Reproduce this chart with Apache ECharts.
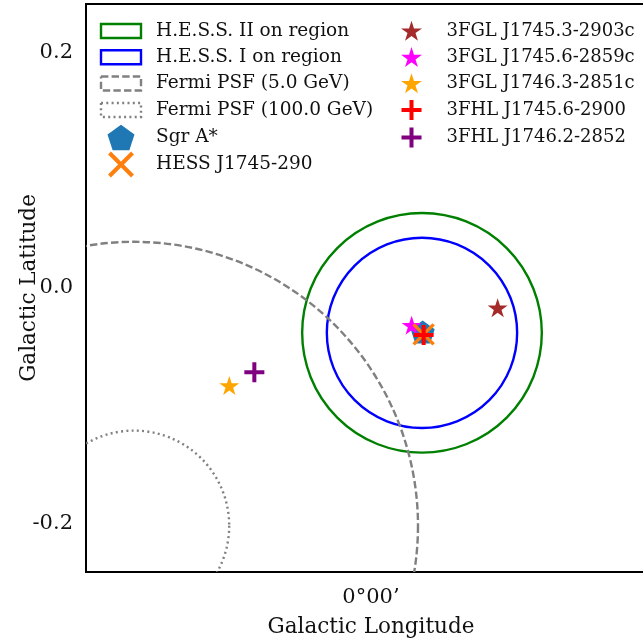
<!DOCTYPE html>
<html><head><meta charset="utf-8">
<script src="https://cdn.jsdelivr.net/npm/echarts@6/dist/echarts.min.js"></script>
<style>html,body{margin:0;padding:0;background:#fff}#c{width:643px;height:641px}</style>
</head><body><div id="c"></div>
<script>
// Galactic longitude offsets (deg, relative to 0°), latitude (deg)
var regionNames = ['H.E.S.S. II on region', 'H.E.S.S. I on region', 'Fermi PSF (5.0 GeV)', 'Fermi PSF (100.0 GeV)'];
var regionCenterL = [-0.0434, -0.0434, 0.2017, 0.2017];
var regionCenterB = [-0.0381, -0.0381, -0.202, -0.202];
var regionRadius = [0.102, 0.081, 0.2417, 0.081];

var sourceNames = ['Sgr A*', 'HESS J1745-290', '3FGL J1745.3-2903c', '3FGL J1745.6-2859c', '3FGL J1746.3-2851c', '3FHL J1745.6-2900', '3FHL J1746.2-2852'];
var sourceL = [-0.0440, -0.0448, -0.1078, -0.0346, 0.1206, -0.0448, 0.0993];
var sourceB = [-0.0374, -0.0394, -0.0167, -0.0317, -0.0828, -0.0400, -0.0715];

var yTicks = [-0.2, 0.0, 0.2];
var xTicks = [0];
var xTickLabels = ['0°00’'];

var FONT = 'DejaVu Serif';
function starPts(cx, cy, R) {
  var s = '';
  for (var k = 0; k < 10; k++) {
    var a = (-90 + 36 * k) * Math.PI / 180, r = (k % 2 === 0) ? R : R * 0.382;
    s += (k === 0 ? 'M' : 'L') + (cx + r * Math.cos(a)).toFixed(2) + ',' + (cy + r * Math.sin(a)).toFixed(2);
  }
  return s + 'Z';
}
var STAR = 'path://' + starPts(100, 100, 100);
var PENT = 'path://M100,0L195.1,69.1L158.8,180.9L41.2,180.9L4.9,69.1Z';
var XMARK = 'path://M0,0L100,100M100,0L0,100';
var PLUS = 'path://M50,0L50,100M0,50L100,50';
// legend icons drawn in a 40x26 box
var BOXEND = 'M0,0M40,26';
var L_RECT = 'path://M0,0M0,6L40,6L40,20L0,20ZM40,26';
var L_PENT = 'path://' + BOXEND + 'M20,0.15L33.5,9.96L28.35,25.84L11.65,25.84L6.5,9.96Z';
var L_STAR = 'path://' + BOXEND + starPts(20, 13.8, 11);
var L_X = 'path://' + BOXEND + 'M8.5,1.5L31.5,24.5M31.5,1.5L8.5,24.5';
var L_PLUS = 'path://' + BOXEND + 'M20,3L20,23M10,13L30,13';

var regionColors = ['#008000', '#0000ff', '#808080', '#808080'];
var regionDash = [null, null, [7.4, 3.2], [2, 3.3]];

var series = [];
regionNames.forEach(function (n, i) {
  series.push({
    type: 'custom', name: n, coordinateSystem: 'cartesian2d', clip: true, z: 1,
    data: [[regionCenterL[i], regionCenterB[i], regionRadius[i]]],
    itemStyle: {color: regionColors[i]},
    renderItem: function (params, api) {
      var c = api.coord([api.value(0), api.value(1)]);
      var s = api.size([api.value(2), 0]);
      return {type: 'circle', shape: {cx: c[0], cy: c[1], r: Math.abs(s[0])},
        style: {fill: null, stroke: regionColors[i], lineWidth: 2.4, lineDash: regionDash[i]}};
    }
  });
});

var symbols = [PENT, XMARK, STAR, STAR, STAR, PLUS, PLUS];
var legendIcons = [L_PENT, L_X, L_STAR, L_STAR, L_STAR, L_PLUS, L_PLUS];
var sizes = [24, 20, 20, 20, 20, 20, 20];
var colors = ['#1f77b4', '#ff7f0e', '#a52a2a', '#ff00ff', '#ffa500', '#ff0000', '#800080'];
var borders = [0, 3.5, 0, 0, 0, 4, 4];
var zs = [2, 3, 2, 2, 2, 4, 4];
sourceNames.forEach(function (n, i) {
  series.push({
    type: 'scatter', name: n, symbol: symbols[i], symbolSize: sizes[i], symbolKeepAspect: true, z: zs[i],
    data: [[sourceL[i], sourceB[i]]],
    itemStyle: {color: colors[i], borderColor: colors[i], borderWidth: borders[i], opacity: 1}
  });
});

// legend entries: [item, strokeWidth]
var leftItems = regionNames.map(function (n, i) {
  return [{name: n, icon: L_RECT, itemStyle: {color: '#ffffff', borderColor: regionColors[i], borderWidth: 2.4, borderType: regionDash[i] || 'solid'}}, 2.4];
});
function srcLegend(i) {
  var w = borders[i] ? 4 : 0;
  return [{name: sourceNames[i], icon: legendIcons[i],
    itemStyle: {color: colors[i], borderColor: colors[i], borderWidth: w}}, w];
}
leftItems.push(srcLegend(0), srcLegend(1));
var rightItems = [2, 3, 4, 5, 6].map(srcLegend);
var rowCenters = [31, 57.3, 83.5, 110, 137.5, 164.5];

var legends = [];
function addLegends(items, left, fontSize) {
  items.forEach(function (it, k) {
    legends.push({
      orient: 'vertical', itemWidth: 40, itemHeight: 26, selectedMode: false, padding: 0,
      left: left - it[1] / 2, top: rowCenters[k] - 13 - it[1] / 2,
      textStyle: {fontFamily: FONT, fontSize: fontSize, color: '#111', padding: [0, 0, 0, 10]},
      data: [it[0]]
    });
  });
}
addLegends(leftItems, 101, 18.5);
addLegends(rightItems, 391.5, 18);

var chart = echarts.init(document.getElementById('c'), null, {renderer: 'canvas'});
chart.setOption({
  animation: false,
  backgroundColor: '#fff',
  grid: {left: 86, top: 4, width: 570, height: 568, show: true, borderColor: '#000', borderWidth: 2,
    containLabel: false, outerBoundsMode: 'none'},
  legend: legends,
  xAxis: {
    type: 'value', inverse: true, min: -0.2426, max: 0.2426,
    name: 'Galactic Longitude', nameLocation: 'middle', nameGap: 44, nameMoveOverlap: false,
    nameTextStyle: {fontFamily: FONT, fontSize: 21.5, color: '#111'},
    splitLine: {show: false}, axisTick: {show: false}, axisLine: {show: false},
    axisLabel: {customValues: xTicks, fontFamily: FONT, fontSize: 21, color: '#111', margin: 15,
      formatter: function (v) { var k = xTicks.indexOf(v); return k >= 0 ? xTickLabels[k] : ''; }}
  },
  yAxis: {
    type: 'value', min: -0.2413, max: 0.2413,
    name: 'Galactic Latitude', nameLocation: 'middle', nameGap: 46, nameRotate: 90, nameMoveOverlap: false,
    nameTextStyle: {fontFamily: FONT, fontSize: 21.5, color: '#111'},
    splitLine: {show: false}, axisTick: {show: false}, axisLine: {show: false},
    axisLabel: {customValues: yTicks, fontFamily: FONT, fontSize: 21, color: '#111', margin: 13,
      formatter: function (v) { return v.toFixed(1); }}
  },
  series: series
});
</script></body></html>
